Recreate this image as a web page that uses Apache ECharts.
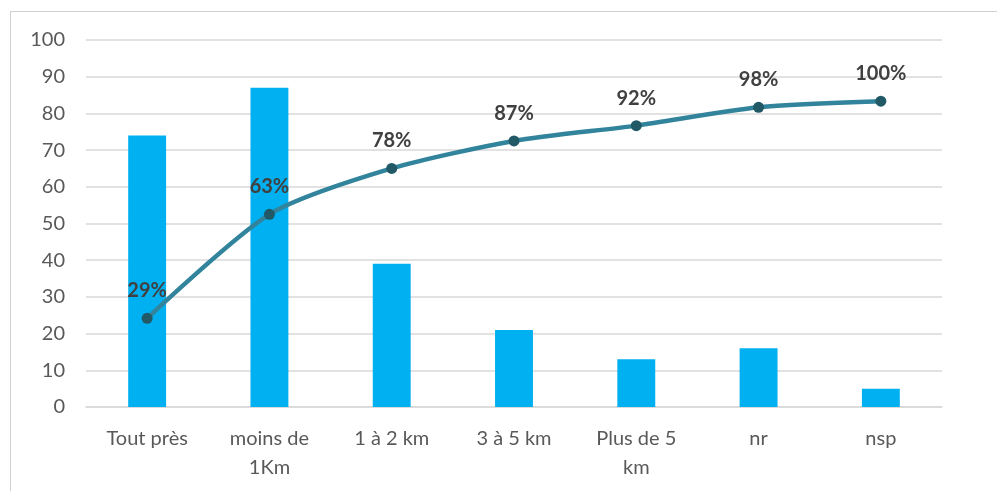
<!DOCTYPE html>
<html>
<head>
<meta charset="utf-8">
<script src="https://cdn.jsdelivr.net/npm/echarts@6/dist/echarts.min.js"></script>
<style>
  html, body { margin: 0; padding: 0; background: #fff; }
  #frame {
    position: absolute; left: 10px; top: 11px; width: 1000px; height: 500px;
    border: 1.5px solid #d0d0d0; box-sizing: border-box;
  }
  #chart { position: absolute; left: 0; top: 0; width: 997px; height: 491px; }
</style>
</head>
<body>
<div id="frame"></div>
<div id="chart"></div>
<script>
const categories = ['Tout près', 'moins de\n1Km', '1 à 2 km', '3 à 5 km', 'Plus de 5\nkm', 'nr', 'nsp'];
const counts = [74, 87, 39, 21, 13, 16, 5];
const cumulPct = [29, 63, 78, 87, 92, 98, 100];
const yTicks = [0, 10, 20, 30, 40, 50, 60, 70, 80, 90, 100];

const chart = echarts.init(document.getElementById('chart'));

const font = 'Lato, "Open Sans", sans-serif';

chart.setOption({
  backgroundColor: 'transparent',
  animation: false,
  grid: { top: 40, left: 86, right: 55, bottom: 84 },
  xAxis: {
    type: 'category',
    data: categories,
    axisLine: { lineStyle: { color: '#d9d9d9', width: 1.5 } },
    axisTick: { show: false },
    axisLabel: {
      color: '#595959',
      fontSize: 20,
      fontFamily: font,
      margin: 17,
      lineHeight: 29,
      interval: 0
    }
  },
  yAxis: [
    {
      type: 'value',
      min: yTicks[0],
      max: yTicks[yTicks.length - 1],
      interval: 10,
      axisLine: { show: false },
      axisTick: { show: false },
      splitLine: { lineStyle: { color: '#d9d9d9', width: 1.5 } },
      axisLabel: { color: '#595959', fontSize: 20, fontFamily: font, margin: 21 }
    },
    {
      type: 'value',
      min: 0,
      max: 120,
      show: false,
      splitLine: { show: false }
    }
  ],
  series: [
    {
      type: 'bar',
      data: counts,
      barWidth: '31%',
      itemStyle: { color: '#00b0f0' }
    },
    {
      type: 'line',
      yAxisIndex: 1,
      data: cumulPct,
      smooth: 0.25,
      symbol: 'circle',
      symbolSize: 11,
      lineStyle: { color: '#31849b', width: 4.5 },
      itemStyle: { color: '#215967' },
      label: {
        show: true,
        position: 'top',
        distance: 12,
        formatter: p => p.value + '%',
        color: '#404040',
        fontSize: 20,
        fontWeight: 'bold',
        fontFamily: font
      }
    }
  ]
});
</script>
</body>
</html>
